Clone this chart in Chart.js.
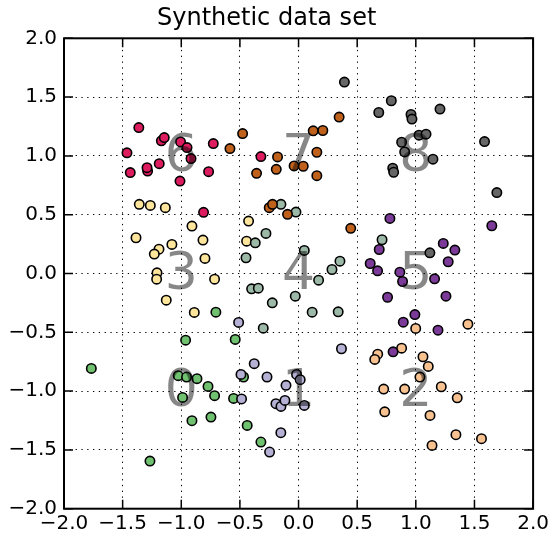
<!DOCTYPE html>
<html>
<head>
<meta charset="utf-8">
<script src="https://cdn.jsdelivr.net/npm/chart.js@4.4.0/dist/chart.umd.min.js"></script>
<style>
  body { margin: 0; background: #fff; }
</style>
</head>
<body>
<canvas id="chart" width="552" height="538"></canvas>
<script>
// Points of each cluster: [x, y]
const cluster0 = [[-1.026,-0.869],[-0.955,-0.880],[-0.866,-0.894],[-0.772,-0.960],[-0.716,-1.039],[-0.989,-1.054],[-0.554,-1.062],[-0.909,-1.252],[-0.747,-1.221],[-0.705,-0.329],[-0.963,-0.567],[-0.540,-0.561],[-1.767,-0.807],[-0.469,-0.880],[-0.438,-1.292],[-0.321,-1.433],[-1.267,-1.595]];
const cluster1 = [[-0.511,-0.416],[-0.378,-0.767],[-0.491,-0.858],[-0.269,-0.880],[-0.017,-0.858],[0.014,-0.903],[-0.107,-0.951],[-0.486,-1.067],[-0.193,-1.107],[-0.150,-1.130],[-0.116,-1.079],[0.049,-1.122],[-0.151,-1.354],[-0.247,-1.518],[0.366,-0.640]];
const cluster2 = [[1.444,-0.431],[0.999,-0.467],[0.879,-0.635],[0.675,-0.686],[0.650,-0.731],[1.061,-0.708],[1.106,-0.790],[1.035,-0.881],[0.726,-0.983],[0.905,-0.983],[1.217,-0.963],[1.353,-1.057],[0.735,-1.176],[1.121,-1.207],[1.342,-1.371],[1.560,-1.405],[1.138,-1.462]];
const cluster3 = [[-1.358,0.588],[-1.264,0.579],[-1.136,0.560],[-0.426,0.446],[-0.909,0.403],[-1.386,0.304],[-0.815,0.284],[-0.443,0.275],[-1.080,0.247],[-1.190,0.207],[-1.230,0.165],[-0.798,0.128],[-1.207,0.006],[-1.210,-0.048],[-0.716,-0.048],[-1.128,-0.227],[-0.889,-0.331]];
const cluster4 = [[-0.150,0.588],[-0.022,0.522],[-0.278,0.341],[-0.369,0.261],[-0.448,0.134],[0.049,0.196],[0.353,0.105],[0.285,0.034],[0.171,-0.057],[-0.400,-0.130],[-0.343,-0.125],[-0.028,-0.193],[-0.224,-0.249],[-0.301,-0.465],[0.116,-0.329],[0.338,-0.326],[0.712,0.287]];
const cluster5 = [[0.779,0.468],[0.688,0.204],[1.234,0.256],[1.333,0.199],[1.276,0.100],[0.611,0.085],[0.674,0.023],[0.864,0.011],[0.887,-0.068],[1.160,-0.045],[0.759,-0.202],[1.257,-0.193],[0.992,-0.349],[0.893,-0.414],[1.648,0.406],[1.189,-0.482],[0.806,-0.666]];
const cluster6 = [[-1.362,1.241],[-1.170,1.128],[-1.145,1.156],[-1.006,1.119],[-0.951,1.071],[-0.917,0.977],[-0.727,1.105],[-1.463,1.026],[-1.435,0.858],[-1.287,0.871],[-1.292,0.900],[-1.188,0.934],[-0.767,0.866],[-1.011,0.786],[-0.810,0.520],[-0.321,0.994]];
const cluster7 = [[-0.477,1.190],[-0.585,1.062],[-0.179,0.991],[-0.358,0.852],[-0.190,0.886],[-0.038,0.915],[-0.250,0.560],[-0.222,0.588],[-0.094,0.503],[0.346,1.330],[0.125,1.213],[0.207,1.216],[0.156,1.031],[0.040,0.912],[0.156,0.832],[0.445,0.384]];
const cluster8 = [[0.391,1.628],[0.791,1.469],[0.684,1.369],[0.959,1.352],[0.967,1.313],[1.206,1.398],[1.027,1.176],[1.087,1.185],[0.879,1.116],[0.905,1.034],[1.586,1.122],[1.146,0.972],[0.803,0.895],[0.811,0.861],[1.691,0.688],[1.120,0.176]];

// big grey digits at the cluster centres
const labelText = ['0', '1', '2', '3', '4', '5', '6', '7', '8'];
const labelX = [-1, 0, 1, -1, 0, 1, -1, 0, 1];
const labelY = [-1, -1, -1, 0, 0, 0, 1, 1, 1];

const axisMin = -2;
const axisMax = 2;
const tickStep = 0.5;

const clusters = [cluster0, cluster1, cluster2, cluster3, cluster4, cluster5, cluster6, cluster7, cluster8];
const colors = ['#6fc06f', '#b4b1d4', '#f7c190', '#fde59b', '#9cb8a7', '#7c3a98', '#dc1c5e', '#c0611b', '#666666'];

const fmt = v => (v < 0 ? '\u2212' : '') + Math.abs(v).toFixed(1);

// digits, frame and inward ticks (matplotlib classic look)
const overlay = {
  id: 'overlay',
  afterDatasetsDraw(chart) {
    const { ctx, chartArea: a, scales: { x, y } } = chart;
    ctx.save();
    ctx.font = '52px "DejaVu Sans"';
    ctx.fillStyle = 'rgba(0,0,0,0.47)';
    ctx.textAlign = 'center';
    ctx.textBaseline = 'alphabetic';
    labelText.forEach((t, i) => {
      ctx.fillText(t, x.getPixelForValue(labelX[i]), y.getPixelForValue(labelY[i]) + 15);
    });

    ctx.strokeStyle = '#000';
    ctx.lineWidth = 1.5;
    ctx.beginPath();
    x.ticks.forEach(t => {
      const px = x.getPixelForValue(t.value);
      ctx.moveTo(px, a.bottom); ctx.lineTo(px, a.bottom - 9);
      ctx.moveTo(px, a.top); ctx.lineTo(px, a.top + 9);
    });
    y.ticks.forEach(t => {
      const py = y.getPixelForValue(t.value);
      ctx.moveTo(a.left, py); ctx.lineTo(a.left + 9, py);
      ctx.moveTo(a.right, py); ctx.lineTo(a.right - 9, py);
    });
    ctx.stroke();
    ctx.lineWidth = 2;
    ctx.strokeRect(a.left, a.top, a.right - a.left, a.bottom - a.top);
    ctx.restore();
  }
};

new Chart(document.getElementById('chart'), {
  type: 'scatter',
  data: {
    datasets: clusters.map((pts, i) => ({
      label: 'cluster ' + i,
      data: pts.map(p => ({ x: p[0], y: p[1] })),
      backgroundColor: colors[i],
      borderColor: '#000',
      borderWidth: 1.6,
      pointRadius: 4.7,
      order: 8 - i
    }))
  },
  options: {
    responsive: false,
    animation: false,
    layout: { padding: { left: 0, right: 18.7, top: 0, bottom: 0 } },
    plugins: {
      legend: { display: false },
      tooltip: { enabled: false },
      title: {
        display: true,
        text: 'Synthetic data set',
        color: '#000',
        font: { family: 'DejaVu Sans', size: 24, weight: 'normal', lineHeight: 1.2 },
        padding: { top: 4, bottom: 5.5 }
      }
    },
    scales: {
      x: {
        type: 'linear',
        min: axisMin,
        max: axisMax,
        afterFit: s => { s.height = 29.3; },
        ticks: {
          stepSize: tickStep,
          color: '#000',
          padding: 3,
          maxRotation: 0,
          font: { family: 'DejaVu Sans', size: 20 },
          callback: fmt
        },
        grid: { color: '#000', lineWidth: 1, drawTicks: false },
        border: { display: false, dash: [1.3, 4.5] }
      },
      y: {
        type: 'linear',
        min: axisMin,
        max: axisMax,
        afterFit: s => { s.width = 64; },
        ticks: {
          stepSize: tickStep,
          color: '#000',
          padding: 7,
          font: { family: 'DejaVu Sans', size: 20 },
          callback: fmt
        },
        grid: { color: '#000', lineWidth: 1, drawTicks: false },
        border: { display: false, dash: [1.3, 4.5] }
      }
    }
  },
  plugins: [overlay]
});
</script>
</body>
</html>
